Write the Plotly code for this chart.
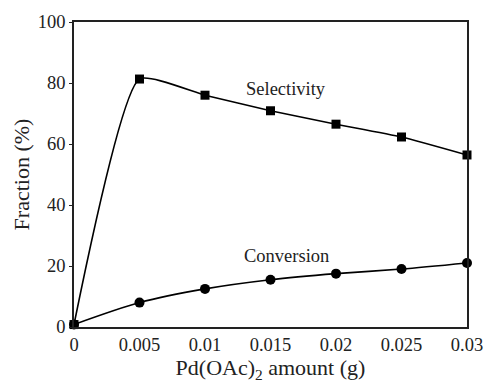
import plotly.graph_objects as go

x_amount = [0, 0.005, 0.01, 0.015, 0.02, 0.025, 0.03]
selectivity = [0.8, 81.3, 76.0, 70.9, 66.5, 62.3, 56.4]
conversion = [0.8, 8.0, 12.5, 15.5, 17.5, 19.0, 21.0]
x_tickvals = [0, 0.005, 0.01, 0.015, 0.02, 0.025, 0.03]
x_ticktext = ["0", "0.005", "0.01", "0.015", "0.02", "0.025", "0.03"]
y_tickvals = [0, 20, 40, 60, 80, 100]

font = dict(family="Liberation Serif, Times New Roman, serif", size=18.5, color="#222")

fig = go.Figure()
fig.add_trace(go.Scatter(x=x_amount, y=selectivity, mode="lines+markers",
                         line=dict(color="black", width=1.6, shape="spline", smoothing=0.5),
                         marker=dict(symbol="square", size=9, color="black"),
                         cliponaxis=False, showlegend=False))
fig.add_trace(go.Scatter(x=x_amount, y=conversion, mode="lines+markers",
                         line=dict(color="black", width=1.6, shape="spline", smoothing=0.8),
                         marker=dict(symbol="circle", size=10, color="black"),
                         cliponaxis=False, showlegend=False))

fig.add_annotation(x=0.0162, y=78, text="Selectivity", showarrow=False, font=font)
fig.add_annotation(x=0.0162, y=23.2, text="Conversion", showarrow=False, font=font)

fig.update_layout(
    width=495, height=388,
    margin=dict(l=74, r=22, t=17, b=61),
    plot_bgcolor="white", paper_bgcolor="white",
    font=font,
    xaxis=dict(range=[0, 0.03], tickvals=x_tickvals, ticktext=x_ticktext,
               showgrid=False, zeroline=False, showline=True, linecolor="#222",
               linewidth=1.6, mirror=True, ticks="", ticklen=0,
               title=dict(text="Pd(OAc)<sub>2</sub> amount (g)", standoff=6)),
    yaxis=dict(range=[0, 100], tickvals=y_tickvals,
               showgrid=False, zeroline=False, showline=True, linecolor="#222",
               linewidth=1.6, mirror=True, ticks="outside", ticklen=3, tickcolor="#222",
               title=dict(text="Fraction (%)", standoff=2)),
)

fig.write_html("out.html")
